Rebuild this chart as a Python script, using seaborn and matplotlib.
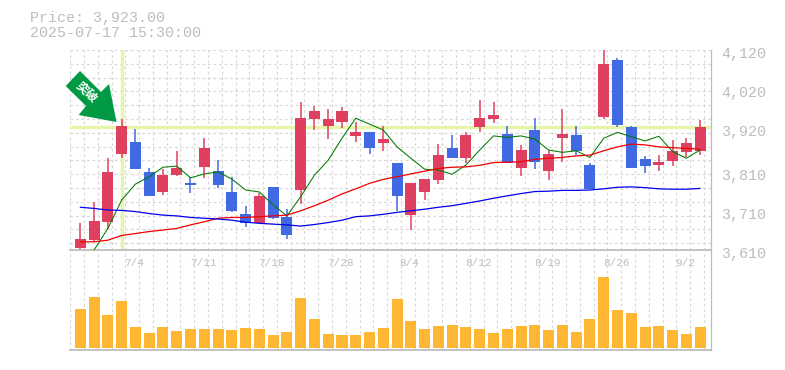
import matplotlib
matplotlib.use("Agg")
import matplotlib.pyplot as plt
from matplotlib.patches import Polygon
from matplotlib.transforms import blended_transform_factory, ScaledTranslation
import numpy as np
import seaborn as sns
import pandas as pd

sns.set_style("white")
plt.rcParams['font.family'] = ['Liberation Mono', 'Noto Sans CJK JP', 'DejaVu Sans']

high = [3679,3732,3845,3944,3919,3819,3817,3862,3796,3896,3839,3796,3722,3755,3771,3715,
        3987,3977,3970,3975,3936,3911,3926,3832,3781,3791,3880,3903,3911,3992,3987,3926,
        3878,3947,3865,3970,3926,3832,4120,4100,3926,3850,3852,3890,3896,3941]
low = [3613,3633,3664,3845,3817,3748,3750,3799,3755,3794,3768,3707,3669,3679,3689,3638,
       3727,3916,3893,3921,3885,3855,3862,3709,3661,3737,3778,3845,3832,3911,3934,3832,
       3799,3816,3788,3834,3852,3766,3944,3924,3819,3806,3811,3824,3847,3852]
body_top = [3638,3684,3809,3926,3885,3809,3801,3819,3780,3870,3811,3758,3702,3748,3771,3694,
            3947,3964,3944,3964,3911,3911,3893,3832,3781,3791,3852,3870,3903,3947,3954,3906,
            3865,3916,3855,3906,3903,3827,4084,4094,3924,3842,3834,3862,3883,3924]
body_bot = [3615,3635,3681,3855,3817,3748,3758,3801,3777,3822,3776,3709,3679,3679,3692,3648,
            3763,3944,3926,3936,3901,3870,3883,3748,3699,3758,3788,3845,3845,3924,3944,3832,
            3819,3834,3811,3896,3862,3766,3949,3929,3819,3824,3827,3837,3860,3862]
is_up = [1,1,1,1,0,0,1,1,0,1,0,0,0,1,0,0,
         1,1,1,1,1,0,1,0,1,1,1,0,1,1,1,0,
         1,0,1,1,0,0,1,0,0,0,1,1,1,1]
ma_short = [None,3610,3665,3737,3778,3797,3821,3824,3794,3804,3809,3791,3763,3758,3725,3697,
            3746,3801,3839,3895,3946,3931,3916,3873,3844,3816,3814,3803,3827,3865,3901,3897,
            3901,3893,3865,3859,3863,3846,3895,3910,3899,3888,3900,3861,3844,3865]
ma_mid = [3631,3631,3635,3647,3652,3657,3661,3665,3674,3682,3691,3693,3693,3695,3697,3699,
          3710,3723,3737,3753,3766,3780,3790,3797,3804,3811,3818,3821,3822,3826,3833,3834,
          3835,3841,3844,3846,3850,3852,3863,3873,3880,3878,3873,3871,3869,3867]
ma_long = [3719,3716,3712,3711,3708,3703,3699,3697,3693,3691,3689,3686,3681,3678,3676,3674,
           3671,3675,3680,3686,3695,3697,3701,3706,3710,3714,3719,3723,3729,3735,3742,3748,
           3754,3759,3760,3762,3762,3763,3766,3770,3771,3769,3766,3765,3765,3767]
volume = [117,153,99,141,63,45,63,51,57,57,57,54,60,57,39,48,150,87,42,39,39,48,60,147,
          81,57,66,69,63,57,45,57,66,69,54,69,48,87,213,114,105,63,66,54,42,63]
date_idx = [4,9,14,19,24,29,34,39,44]
date_labels = ["7/4","7/11","7/18","7/28","8/4","8/12","8/19","8/26","9/2"]
price_ticks = [4120,4020,3920,3810,3710,3610]
price_labels = ["4,120","4,020","3,920","3,810","3,710","3,610"]
signal_price = 3923
signal_idx = 3
title_lines = ["Price: 3,923.00", "2025-07-17 15:30:00"]
arrow_label = "突破"

GREY = "#BDBDBD"; GRID = "#D8D8D8"; RED = "#E0405F"; BLUE = "#4169E1"
ORANGE = "#FFB733"; SIG = "#E6F6A8"; ARROW = "#009944"

W, H = 785, 370
fig = plt.figure(figsize=(W/100, H/100), dpi=100, facecolor="white")
def rect(l, t, r, b):
    return [l/W, 1-b/H, (r-l)/W, (b-t)/H]
ax = fig.add_axes(rect(70.3, 50, 710.6, 250))
axv = fig.add_axes(rect(70.3, 250, 710.6, 350), sharex=ax)

df = pd.DataFrame(dict(i=np.arange(len(high)), volume=volume, short=ma_short, mid=ma_mid, long=ma_long,
                       high=high, low=low, top=body_top, bot=body_bot, up=is_up))
df["short"] = pd.to_numeric(df["short"])
colors = np.where(df.up == 1, RED, BLUE)

XMIN, XMAX = -0.726, 45.76
ax.set_xlim(XMIN, XMAX)
ax.set_ylim(3610, 4120)
axv.set_ylim(-6, 294)

grid_x = np.arange(XMIN, XMAX, 1.0)
grid_y = 4120 - 35.19*np.arange(0, 15)
dash = (0, (2.2, 2.2))
for g in grid_x:
    ax.axvline(g, color=GRID, lw=0.9, ls=dash, zorder=0)
    axv.axvline(g, color=GRID, lw=0.9, ls=dash, zorder=0)
for g in grid_y:
    ax.axhline(g, color=GRID, lw=0.9, ls=dash, zorder=0)

ax.axhline(signal_price, color=SIG, lw=2.4, zorder=1, xmax=0.997)
ax.axvline(signal_idx, color=SIG, lw=2.4, zorder=1, ymin=0.005)

ax.vlines(df.i, df.low, df.high, colors=colors, lw=1.1, zorder=3)
ax.bar(df.i, df.top-df.bot, bottom=df.bot, width=0.8, color=colors, lw=0, zorder=3)

sns.lineplot(data=df, x="i", y="short", ax=ax, color="#007A00", lw=0.75, zorder=4, errorbar=None)
sns.lineplot(data=df, x="i", y="mid", ax=ax, color="#F00000", lw=0.9, zorder=4, errorbar=None)
sns.lineplot(data=df, x="i", y="long", ax=ax, color="#0000EE", lw=0.9, zorder=4, errorbar=None)

sns.barplot(data=df, x="i", y="volume", ax=axv, native_scale=True, color=ORANGE, width=0.8,
            saturation=1, lw=0, zorder=3, errorbar=None)
ax.set_xlim(XMIN, XMAX)
axv.set_ylim(-6, 294)

for a in (ax, axv):
    a.set_xlabel(""); a.set_ylabel("")
    a.tick_params(left=False, bottom=False, labelleft=False, labelbottom=False)
    a.spines["left"].set_visible(False)
    a.spines["top"].set_visible(False)
    a.spines["right"].set_color(GREY)
    a.spines["bottom"].set_color(GREY)
    a.spines["right"].set_linewidth(0.9)
    a.spines["bottom"].set_linewidth(1.3)
    a.set_facecolor("none")

ax.yaxis.tick_right()
ax.set_yticks(price_ticks, price_labels)
ax.tick_params(axis="y", right=False, labelright=True, labelleft=False, labelcolor=GREY,
               labelsize=10.8, pad=4)
shift = ScaledTranslation(0, -4/100, fig.dpi_scale_trans)
for t in ax.get_yticklabels():
    t.set_va("center")
    t.set_transform(t.get_transform() + shift)

trans = blended_transform_factory(axv.transData, axv.transAxes)
for i, s in zip(date_idx, date_labels):
    axv.text(i-0.1, 0.875, s, transform=trans, ha="center", va="center", color=GREY, fontsize=7.9, zorder=5)

fig.text(30/W, 1-18/H, title_lines[0], color=GREY, fontsize=10.8, ha="left", va="center")
fig.text(30/W, 1-33/H, title_lines[1], color=GREY, fontsize=10.8, ha="left", va="center")

pts = [(116.5,122),(109,84),(101,92),(80,71),(65.7,86),(86,106),(78.7,115)]
fig.patches.append(Polygon([(x/W, 1-y/H) for x, y in pts], closed=True, transform=fig.transFigure,
                           facecolor=ARROW, edgecolor="none", zorder=6))
fig.text(87/W, 1-92/H, arrow_label, color="white", fontsize=8.8, fontweight="bold", rotation=-45,
         rotation_mode="anchor", ha="center", va="center", zorder=7,
         family=['Noto Sans CJK JP', 'DejaVu Sans'])

fig.savefig("out.png", dpi=100)
